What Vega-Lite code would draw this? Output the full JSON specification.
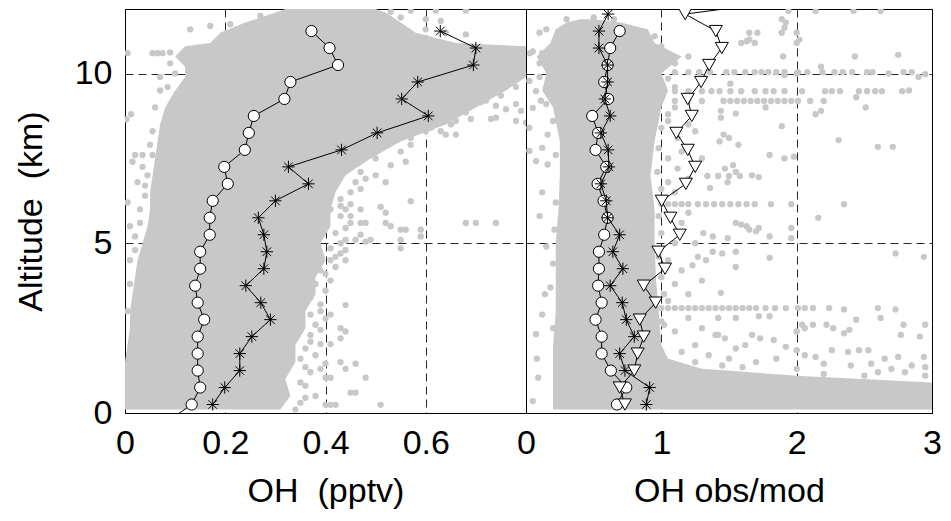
{
  "$schema": "https://vega.github.io/schema/vega-lite/v6.json",
  "background": "white",
  "padding": {"left": 13, "top": 8, "right": 6, "bottom": 5},
  "bounds": "flush",
  "spacing": 0,
  "config": {
    "font": "Liberation Sans",
    "view": {"stroke": "black", "strokeWidth": 1},
    "axis": {
      "labelFont": "Liberation Sans", "labelFontSize": 34, "labelColor": "black",
      "titleFont": "Liberation Sans", "titleFontSize": 34, "titleFontWeight": "normal", "titleColor": "black",
      "ticks": false, "domain": false, "grid": true, "gridColor": "black", "gridDash": [8, 5], "gridWidth": 1, "gridOpacity": 0.85,
      "labelFlush": false, "labelOverlap": false, "labelPadding": 13, "titlePadding": 14, "format": "~g"
    }
  },
  "datasets": {
    "leftCore": [
      {"alt": 0.1, "lo": 0, "hi": 0.31}, {"alt": 0.5, "lo": 0, "hi": 0.33}, {"alt": 1, "lo": 0, "hi": 0.32}, {"alt": 1.5, "lo": 0, "hi": 0.34},
      {"alt": 2, "lo": 0.005, "hi": 0.34}, {"alt": 2.5, "lo": 0.01, "hi": 0.36}, {"alt": 3, "lo": 0.01, "hi": 0.36}, {"alt": 3.5, "lo": 0.015, "hi": 0.38},
      {"alt": 4, "lo": 0.02, "hi": 0.38}, {"alt": 4.5, "lo": 0.025, "hi": 0.40}, {"alt": 5, "lo": 0.035, "hi": 0.39}, {"alt": 5.5, "lo": 0.045, "hi": 0.41},
      {"alt": 6, "lo": 0.05, "hi": 0.41}, {"alt": 6.5, "lo": 0.05, "hi": 0.42}, {"alt": 7, "lo": 0.055, "hi": 0.44}, {"alt": 7.5, "lo": 0.06, "hi": 0.49},
      {"alt": 8, "lo": 0.065, "hi": 0.55}, {"alt": 8.5, "lo": 0.07, "hi": 0.64}, {"alt": 9, "lo": 0.08, "hi": 0.70}, {"alt": 9.5, "lo": 0.10, "hi": 0.76},
      {"alt": 9.9, "lo": 0.12, "hi": 0.80}, {"alt": 10.2, "lo": 0.12, "hi": 0.80}, {"alt": 10.5, "lo": 0.10, "hi": 0.80}, {"alt": 10.8, "lo": 0.12, "hi": 0.80},
      {"alt": 10.9, "lo": 0.17, "hi": 0.66}, {"alt": 11.2, "lo": 0.19, "hi": 0.58}, {"alt": 11.5, "lo": 0.24, "hi": 0.55}, {"alt": 11.8, "lo": 0.30, "hi": 0.52},
      {"alt": 11.9, "lo": 0.32, "hi": 0.50}
    ],
    "rightCore": [
      {"alt": 0.1, "lo": 0.2, "hi": 3.0}, {"alt": 0.9, "lo": 0.2, "hi": 3.0}, {"alt": 1.1, "lo": 0.2, "hi": 2.0}, {"alt": 1.3, "lo": 0.2, "hi": 1.3},
      {"alt": 1.6, "lo": 0.2, "hi": 1.05}, {"alt": 2, "lo": 0.2, "hi": 1.0}, {"alt": 3, "lo": 0.22, "hi": 0.98}, {"alt": 4, "lo": 0.22, "hi": 0.96},
      {"alt": 5, "lo": 0.22, "hi": 0.95}, {"alt": 6, "lo": 0.24, "hi": 0.95}, {"alt": 7, "lo": 0.25, "hi": 0.92}, {"alt": 8, "lo": 0.25, "hi": 0.95},
      {"alt": 9, "lo": 0.2, "hi": 1.0}, {"alt": 9.5, "lo": 0.12, "hi": 1.05}, {"alt": 10, "lo": 0.15, "hi": 1.0}, {"alt": 10.5, "lo": 0.08, "hi": 1.15},
      {"alt": 10.9, "lo": 0.18, "hi": 0.95}, {"alt": 11.3, "lo": 0.22, "hi": 0.9}, {"alt": 11.5, "lo": 0.3, "hi": 0.7}, {"alt": 11.6, "lo": 0.4, "hi": 0.5}
    ],
    "leftDots": [
      {"alt": 11.85, "v": 0.33}, {"alt": 11.85, "v": 0.36}, {"alt": 11.85, "v": 0.40}, {"alt": 11.82, "v": 0.44}, {"alt": 11.85, "v": 0.48},
      {"alt": 11.82, "v": 0.53}, {"alt": 11.85, "v": 0.57}, {"alt": 11.85, "v": 0.62}, {"alt": 11.85, "v": 0.68}, {"alt": 11.7, "v": 0.27},
      {"alt": 11.65, "v": 0.55}, {"alt": 11.6, "v": 0.60}, {"alt": 11.55, "v": 0.63}, {"alt": 11.45, "v": 0.21}, {"alt": 11.4, "v": 0.17},
      {"alt": 11.3, "v": 0.13}, {"alt": 11.3, "v": 0.60}, {"alt": 11.2, "v": 0.64}, {"alt": 11.15, "v": 0.68},
      {"alt": 10.6, "v": 0.005}, {"alt": 10.6, "v": 0.055}, {"alt": 10.6, "v": 0.065}, {"alt": 10.6, "v": 0.075}, {"alt": 10.62, "v": 0.09},
      {"alt": 8.65, "v": 0.003}, {"alt": 8.8, "v": 0.012}, {"alt": 9.5, "v": 0.07}, {"alt": 9.9, "v": 0.07}, {"alt": 7.6, "v": 0.02},
      {"alt": 7.6, "v": 0.035}, {"alt": 7.6, "v": 0.055}, {"alt": 7.4, "v": 0.015}, {"alt": 7.25, "v": 0.035}, {"alt": 6.8, "v": 0.025},
      {"alt": 6.7, "v": 0.04}, {"alt": 6.2, "v": 0.005}, {"alt": 5.2, "v": 0.02}, {"alt": 6.0, "v": 0.03}, {"alt": 5.5, "v": 0.01}, {"alt": 4.5, "v": 0.01},
      {"alt": 3.0, "v": 0.005}, {"alt": 3.8, "v": 0.01}, {"alt": 4.8, "v": 0.02}, {"alt": 5.6, "v": 0.03}, {"alt": 6.4, "v": 0.04},
      {"alt": 7.0, "v": 0.045}, {"alt": 7.9, "v": 0.05}, {"alt": 8.3, "v": 0.055}, {"alt": 9.0, "v": 0.06}, {"alt": 9.6, "v": 0.085},
      {"alt": 10.0, "v": 0.1}, {"alt": 10.3, "v": 0.09},
      {"alt": 9.0, "v": 0.67}, {"alt": 9.1, "v": 0.69}, {"alt": 9.15, "v": 0.71}, {"alt": 9.05, "v": 0.74}, {"alt": 8.95, "v": 0.76},
      {"alt": 8.9, "v": 0.79}, {"alt": 9.1, "v": 0.78}, {"alt": 8.66, "v": 0.69}, {"alt": 8.66, "v": 0.73}, {"alt": 8.7, "v": 0.74},
      {"alt": 8.6, "v": 0.78}, {"alt": 8.55, "v": 0.80}, {"alt": 8.5, "v": 0.65}, {"alt": 8.3, "v": 0.63}, {"alt": 8.2, "v": 0.64},
      {"alt": 8.4, "v": 0.61}, {"alt": 8.2, "v": 0.66},
      {"alt": 7.9, "v": 0.57}, {"alt": 7.7, "v": 0.55}, {"alt": 7.4, "v": 0.56}, {"alt": 7.3, "v": 0.53}, {"alt": 7.5, "v": 0.50},
      {"alt": 7.0, "v": 0.50}, {"alt": 6.8, "v": 0.52}, {"alt": 6.9, "v": 0.48}, {"alt": 6.6, "v": 0.47}, {"alt": 6.24, "v": 0.57},
      {"alt": 6.07, "v": 0.51}, {"alt": 6.1, "v": 0.43}, {"alt": 6.15, "v": 0.45}, {"alt": 6.0, "v": 0.44}, {"alt": 6.0, "v": 0.47},
      {"alt": 6.0, "v": 0.41}, {"alt": 5.8, "v": 0.43}, {"alt": 5.8, "v": 0.45}, {"alt": 5.6, "v": 0.45}, {"alt": 5.6, "v": 0.47},
      {"alt": 5.6, "v": 0.48}, {"alt": 5.6, "v": 0.52}, {"alt": 5.9, "v": 0.52}, {"alt": 5.5, "v": 0.53}, {"alt": 5.4, "v": 0.55},
      {"alt": 5.4, "v": 0.56}, {"alt": 5.4, "v": 0.59}, {"alt": 5.25, "v": 0.47}, {"alt": 5.1, "v": 0.49}, {"alt": 5.1, "v": 0.46},
      {"alt": 5.05, "v": 0.48}, {"alt": 5.1, "v": 0.55}, {"alt": 5.1, "v": 0.44}, {"alt": 5.6, "v": 0.68}, {"alt": 5.6, "v": 0.70},
      {"alt": 5.6, "v": 0.74}, {"alt": 5.2, "v": 0.59}, {"alt": 4.85, "v": 0.55}, {"alt": 4.85, "v": 0.41}, {"alt": 4.7, "v": 0.43},
      {"alt": 4.8, "v": 0.44}, {"alt": 4.5, "v": 0.41}, {"alt": 4.5, "v": 0.44}, {"alt": 3.18, "v": 0.44}, {"alt": 3.4, "v": 0.37},
      {"alt": 3.2, "v": 0.39}, {"alt": 2.9, "v": 0.41}, {"alt": 2.78, "v": 0.40}, {"alt": 2.9, "v": 0.37}, {"alt": 2.5, "v": 0.43},
      {"alt": 2.4, "v": 0.44}, {"alt": 2.2, "v": 0.43}, {"alt": 2.03, "v": 0.41}, {"alt": 2.03, "v": 0.39}, {"alt": 1.5, "v": 0.43},
      {"alt": 1.45, "v": 0.46}, {"alt": 1.3, "v": 0.44}, {"alt": 1.3, "v": 0.39}, {"alt": 1.45, "v": 0.40}, {"alt": 1.04, "v": 0.40},
      {"alt": 1.04, "v": 0.41}, {"alt": 1.04, "v": 0.48}, {"alt": 0.6, "v": 0.45}, {"alt": 0.6, "v": 0.46}, {"alt": 0.24, "v": 0.40},
      {"alt": 0.24, "v": 0.41}, {"alt": 0.24, "v": 0.42}, {"alt": 0.24, "v": 0.51}, {"alt": 0.5, "v": 0.38}, {"alt": 1.9, "v": 0.36},
      {"alt": 2.3, "v": 0.37}, {"alt": 3.8, "v": 0.38}, {"alt": 4.2, "v": 0.39}, {"alt": 0.8, "v": 0.36}, {"alt": 1.6, "v": 0.35},
      {"alt": 0.1, "v": 0.34}, {"alt": 0.3, "v": 0.35}, {"alt": 0.45, "v": 0.36}, {"alt": 0.9, "v": 0.35}, {"alt": 1.2, "v": 0.37},
      {"alt": 1.35, "v": 0.36}, {"alt": 1.7, "v": 0.38}, {"alt": 2.1, "v": 0.37}, {"alt": 2.6, "v": 0.38}, {"alt": 2.45, "v": 0.39},
      {"alt": 3.0, "v": 0.39}, {"alt": 3.6, "v": 0.40}, {"alt": 3.9, "v": 0.41}, {"alt": 4.1, "v": 0.40}, {"alt": 4.3, "v": 0.42},
      {"alt": 4.6, "v": 0.42}, {"alt": 5.0, "v": 0.43}, {"alt": 5.3, "v": 0.42}, {"alt": 5.45, "v": 0.44}, {"alt": 6.3, "v": 0.43},
      {"alt": 6.5, "v": 0.45}, {"alt": 6.8, "v": 0.46}, {"alt": 7.1, "v": 0.47}, {"alt": 7.7, "v": 0.50}, {"alt": 7.9, "v": 0.52},
      {"alt": 8.1, "v": 0.57}, {"alt": 8.3, "v": 0.60}, {"alt": 8.6, "v": 0.66}, {"alt": 8.85, "v": 0.68}, {"alt": 9.2, "v": 0.72},
      {"alt": 9.35, "v": 0.75}, {"alt": 9.6, "v": 0.78}
    ],
    "rightDots": [
      {"alt": 11.84, "v": 1.94}, {"alt": 11.84, "v": 2.14}, {"alt": 11.84, "v": 2.42}, {"alt": 11.84, "v": 2.62}, {"alt": 11.6, "v": 1.89},
      {"alt": 11.5, "v": 1.92}, {"alt": 11.35, "v": 1.91}, {"alt": 11.2, "v": 1.89}, {"alt": 11.2, "v": 1.65}, {"alt": 11.2, "v": 1.71},
      {"alt": 11.0, "v": 1.65}, {"alt": 10.9, "v": 1.59}, {"alt": 10.9, "v": 1.69}, {"alt": 10.95, "v": 1.63}, {"alt": 11.2, "v": 2.0},
      {"alt": 11.0, "v": 2.02}, {"alt": 10.9, "v": 2.0}, {"alt": 10.5, "v": 1.9}, {"alt": 10.5, "v": 2.43}, {"alt": 10.55, "v": 2.75},
      {"alt": 11.6, "v": 0.3}, {"alt": 11.65, "v": 0.5}, {"alt": 11.6, "v": 0.65}, {"alt": 11.3, "v": 0.15}, {"alt": 11.2, "v": 0.1},
      {"alt": 10.65, "v": 0.05}, {"alt": 10.6, "v": 0.03}, {"alt": 10.6, "v": 0.12},
      {"alt": 10.04, "v": 1.1}, {"alt": 10.04, "v": 1.2}, {"alt": 10.04, "v": 1.28}, {"alt": 10.04, "v": 1.36}, {"alt": 10.04, "v": 1.48},
      {"alt": 10.04, "v": 1.54}, {"alt": 10.04, "v": 1.62}, {"alt": 10.04, "v": 1.69}, {"alt": 10.04, "v": 1.74}, {"alt": 10.04, "v": 1.79},
      {"alt": 10.04, "v": 1.85}, {"alt": 10.04, "v": 1.91}, {"alt": 10.04, "v": 2.01}, {"alt": 10.04, "v": 2.08}, {"alt": 10.04, "v": 2.19},
      {"alt": 10.04, "v": 2.28}, {"alt": 10.04, "v": 2.34}, {"alt": 10.04, "v": 2.41}, {"alt": 10.04, "v": 2.52}, {"alt": 10.04, "v": 2.56},
      {"alt": 10.04, "v": 2.79}, {"alt": 10.04, "v": 2.85}, {"alt": 9.98, "v": 2.95}, {"alt": 10.2, "v": 2.18}, {"alt": 9.95, "v": 1.91},
      {"alt": 10.0, "v": 2.0}, {"alt": 10.0, "v": 2.68}, {"alt": 9.9, "v": 2.9},
      {"alt": 9.48, "v": 1.1}, {"alt": 9.48, "v": 1.2}, {"alt": 9.48, "v": 1.3}, {"alt": 9.48, "v": 1.37}, {"alt": 9.48, "v": 1.43},
      {"alt": 9.48, "v": 1.51}, {"alt": 9.48, "v": 1.59}, {"alt": 9.48, "v": 1.69}, {"alt": 9.48, "v": 1.77}, {"alt": 9.48, "v": 1.83},
      {"alt": 9.48, "v": 1.91}, {"alt": 9.48, "v": 2.04}, {"alt": 9.48, "v": 2.21}, {"alt": 9.48, "v": 2.26}, {"alt": 9.48, "v": 2.32},
      {"alt": 9.48, "v": 2.46}, {"alt": 9.48, "v": 2.52}, {"alt": 9.48, "v": 2.58}, {"alt": 9.48, "v": 2.63}, {"alt": 9.48, "v": 2.78},
      {"alt": 9.5, "v": 2.83},
      {"alt": 9.19, "v": 1.1}, {"alt": 9.19, "v": 1.2}, {"alt": 9.19, "v": 1.3}, {"alt": 9.19, "v": 1.46}, {"alt": 9.19, "v": 1.51},
      {"alt": 9.19, "v": 1.56}, {"alt": 9.19, "v": 1.61}, {"alt": 9.19, "v": 1.66}, {"alt": 9.19, "v": 1.71}, {"alt": 9.19, "v": 1.76},
      {"alt": 9.19, "v": 1.81}, {"alt": 9.19, "v": 1.86}, {"alt": 9.19, "v": 1.91}, {"alt": 9.19, "v": 1.96}, {"alt": 9.19, "v": 2.01},
      {"alt": 9.19, "v": 2.1}, {"alt": 9.19, "v": 2.2}, {"alt": 9.3, "v": 2.44},
      {"alt": 9.0, "v": 1.77}, {"alt": 9.0, "v": 2.51}, {"alt": 8.9, "v": 2.18}, {"alt": 8.8, "v": 2.14}, {"alt": 8.45, "v": 1.89},
      {"alt": 8.04, "v": 2.31}, {"alt": 7.84, "v": 2.6}, {"alt": 7.84, "v": 2.71}, {"alt": 7.6, "v": 1.8}, {"alt": 7.5, "v": 1.91},
      {"alt": 7.55, "v": 1.98}, {"alt": 7.2, "v": 1.47}, {"alt": 7.3, "v": 1.53}, {"alt": 7.1, "v": 1.55}, {"alt": 7.0, "v": 1.67},
      {"alt": 6.95, "v": 1.72}, {"alt": 6.98, "v": 1.34}, {"alt": 6.98, "v": 1.42}, {"alt": 6.98, "v": 1.5}, {"alt": 6.98, "v": 1.58},
      {"alt": 6.8, "v": 1.49}, {"alt": 6.63, "v": 1.36}, {"alt": 8.7, "v": 1.44}, {"alt": 8.9, "v": 1.44}, {"alt": 8.82, "v": 1.55},
      {"alt": 9.7, "v": 1.51}, {"alt": 8.0, "v": 1.43}, {"alt": 8.1, "v": 1.5}, {"alt": 7.9, "v": 1.57}, {"alt": 8.2, "v": 1.46},
      {"alt": 8.5, "v": 1.2}, {"alt": 8.3, "v": 1.25}, {"alt": 7.7, "v": 1.15}, {"alt": 7.5, "v": 1.3}, {"alt": 7.2, "v": 1.12},
      {"alt": 6.9, "v": 1.2}, {"alt": 8.8, "v": 1.05}, {"alt": 9.0, "v": 1.1},
      {"alt": 6.15, "v": 1.0}, {"alt": 6.15, "v": 1.05}, {"alt": 6.15, "v": 1.1}, {"alt": 6.15, "v": 1.15}, {"alt": 6.15, "v": 1.2},
      {"alt": 6.15, "v": 1.27}, {"alt": 6.15, "v": 1.33}, {"alt": 6.15, "v": 1.39}, {"alt": 6.15, "v": 1.45}, {"alt": 6.15, "v": 1.51},
      {"alt": 6.15, "v": 1.57}, {"alt": 6.15, "v": 1.63}, {"alt": 6.15, "v": 1.69}, {"alt": 6.15, "v": 1.81}, {"alt": 6.15, "v": 1.96},
      {"alt": 6.15, "v": 2.35},
      {"alt": 5.75, "v": 2.16}, {"alt": 5.6, "v": 1.55}, {"alt": 5.55, "v": 1.59}, {"alt": 5.5, "v": 1.63}, {"alt": 5.45, "v": 1.72},
      {"alt": 5.45, "v": 1.96}, {"alt": 5.4, "v": 1.65}, {"alt": 5.35, "v": 1.7}, {"alt": 5.3, "v": 1.31}, {"alt": 5.2, "v": 1.38},
      {"alt": 5.15, "v": 1.49}, {"alt": 5.2, "v": 1.8}, {"alt": 5.15, "v": 1.96}, {"alt": 4.6, "v": 1.27}, {"alt": 4.75, "v": 1.38},
      {"alt": 4.7, "v": 1.45}, {"alt": 4.75, "v": 1.55}, {"alt": 4.5, "v": 1.33}, {"alt": 4.3, "v": 1.55}, {"alt": 4.35, "v": 1.23},
      {"alt": 4.57, "v": 1.8}, {"alt": 4.7, "v": 2.73}, {"alt": 4.6, "v": 2.94}, {"alt": 3.54, "v": 1.44},
      {"alt": 6.8, "v": 1.05}, {"alt": 6.5, "v": 1.1}, {"alt": 5.9, "v": 1.2}, {"alt": 5.6, "v": 1.15}, {"alt": 5.0, "v": 1.1},
      {"alt": 5.0, "v": 1.25}, {"alt": 4.5, "v": 1.05}, {"alt": 4.2, "v": 1.15}, {"alt": 3.8, "v": 1.1}, {"alt": 3.5, "v": 1.2},
      {"alt": 3.3, "v": 1.05}, {"alt": 3.9, "v": 1.3}, {"alt": 2.6, "v": 1.02}, {"alt": 2.4, "v": 1.1}, {"alt": 2.8, "v": 1.2},
      {"alt": 2.5, "v": 1.3}, {"alt": 2.3, "v": 1.4}, {"alt": 7.5, "v": 1.05}, {"alt": 8.1, "v": 1.12},
      {"alt": 3.09, "v": 1.0}, {"alt": 3.09, "v": 1.05}, {"alt": 3.09, "v": 1.1}, {"alt": 3.09, "v": 1.15}, {"alt": 3.09, "v": 1.2},
      {"alt": 3.09, "v": 1.25}, {"alt": 3.09, "v": 1.3}, {"alt": 3.09, "v": 1.35}, {"alt": 3.09, "v": 1.4}, {"alt": 3.09, "v": 1.45},
      {"alt": 3.09, "v": 1.5}, {"alt": 3.09, "v": 1.55}, {"alt": 3.09, "v": 1.6}, {"alt": 3.09, "v": 1.65}, {"alt": 3.09, "v": 1.7},
      {"alt": 3.09, "v": 1.77}, {"alt": 3.09, "v": 1.84}, {"alt": 3.09, "v": 1.92}, {"alt": 3.09, "v": 2.01}, {"alt": 3.09, "v": 2.06},
      {"alt": 3.09, "v": 2.12}, {"alt": 3.09, "v": 2.24}, {"alt": 3.05, "v": 2.35}, {"alt": 3.09, "v": 2.6}, {"alt": 3.05, "v": 2.73},
      {"alt": 2.8, "v": 1.42}, {"alt": 2.8, "v": 1.55}, {"alt": 2.85, "v": 1.72}, {"alt": 2.85, "v": 1.8}, {"alt": 2.6, "v": 2.04},
      {"alt": 2.6, "v": 2.12}, {"alt": 2.6, "v": 2.22}, {"alt": 2.5, "v": 2.06}, {"alt": 2.75, "v": 2.44}, {"alt": 2.8, "v": 2.62},
      {"alt": 2.6, "v": 2.79}, {"alt": 2.6, "v": 2.95}, {"alt": 2.4, "v": 2.0}, {"alt": 2.35, "v": 2.35}, {"alt": 2.45, "v": 2.39},
      {"alt": 2.5, "v": 2.27}, {"alt": 2.3, "v": 2.77}, {"alt": 2.25, "v": 2.91},
      {"alt": 2.3, "v": 1.42}, {"alt": 2.2, "v": 1.47}, {"alt": 2.3, "v": 1.67}, {"alt": 2.2, "v": 1.73}, {"alt": 2.15, "v": 1.83},
      {"alt": 1.95, "v": 1.92}, {"alt": 1.85, "v": 2.0}, {"alt": 1.7, "v": 2.06}, {"alt": 1.65, "v": 2.14}, {"alt": 1.85, "v": 2.26},
      {"alt": 1.8, "v": 2.38}, {"alt": 1.85, "v": 2.46}, {"alt": 1.85, "v": 2.53}, {"alt": 1.6, "v": 2.65}, {"alt": 1.65, "v": 2.75},
      {"alt": 1.65, "v": 2.94}, {"alt": 1.9, "v": 1.55}, {"alt": 2.0, "v": 1.62}, {"alt": 1.7, "v": 1.35}, {"alt": 1.6, "v": 1.5},
      {"alt": 1.5, "v": 1.7}, {"alt": 1.6, "v": 1.85}, {"alt": 1.45, "v": 2.2}, {"alt": 1.4, "v": 2.4}, {"alt": 1.45, "v": 2.55},
      {"alt": 1.4, "v": 2.85}, {"alt": 1.35, "v": 1.6}, {"alt": 1.4, "v": 1.45}, {"alt": 1.3, "v": 2.0}, {"alt": 1.3, "v": 2.7},
      {"alt": 1.35, "v": 2.95}, {"alt": 1.5, "v": 1.25}, {"alt": 1.8, "v": 1.15}, {"alt": 2.0, "v": 1.25},
      {"alt": 1.15, "v": 2.2}, {"alt": 1.1, "v": 2.5}, {"alt": 1.2, "v": 2.8}, {"alt": 1.1, "v": 2.95}, {"alt": 1.2, "v": 2.6},
      {"alt": 9.78, "v": 0.025}, {"alt": 9.48, "v": 0.074}, {"alt": 8.99, "v": 0.05}, {"alt": 8.4, "v": 0.025}, {"alt": 7.81, "v": 0.12},
      {"alt": 7.42, "v": 0.074}, {"alt": 7.72, "v": 0.025}, {"alt": 7.32, "v": 0.16}, {"alt": 2.32, "v": 0.074}, {"alt": 1.04, "v": 0.09},
      {"alt": 0.35, "v": 0.05}, {"alt": 6.5, "v": 0.12}, {"alt": 5.8, "v": 0.1}, {"alt": 4.9, "v": 0.15}, {"alt": 3.5, "v": 0.14},
      {"alt": 2.9, "v": 0.12}, {"alt": 1.6, "v": 0.08}, {"alt": 8.2, "v": 0.16}, {"alt": 9.2, "v": 0.11},
      {"alt": 2.7, "v": 1.0}, {"alt": 3.5, "v": 1.02}, {"alt": 4.0, "v": 1.0}, {"alt": 4.6, "v": 0.98}, {"alt": 5.3, "v": 1.0},
      {"alt": 5.8, "v": 0.98}, {"alt": 6.6, "v": 1.0}, {"alt": 7.1, "v": 0.97}, {"alt": 7.8, "v": 0.98}, {"alt": 8.4, "v": 1.0},
      {"alt": 8.6, "v": 1.05}, {"alt": 9.6, "v": 1.1}, {"alt": 9.85, "v": 1.05}, {"alt": 10.3, "v": 1.1}, {"alt": 10.5, "v": 1.2},
      {"alt": 10.8, "v": 1.0}, {"alt": 11.1, "v": 0.95}, {"alt": 2.5, "v": 0.2}, {"alt": 3.7, "v": 0.18}, {"alt": 4.4, "v": 0.2},
      {"alt": 5.4, "v": 0.21}, {"alt": 6.2, "v": 0.22}, {"alt": 7.6, "v": 0.22}, {"alt": 8.6, "v": 0.2}, {"alt": 9.1, "v": 0.15},
      {"alt": 9.9, "v": 0.1}, {"alt": 10.3, "v": 0.1}
    ],
    "leftProf": [
      {"s": "c", "alt": -0.25, "v": 0.084}, {"s": "c", "alt": 0.25, "v": 0.133}, {"s": "c", "alt": 0.75, "v": 0.150}, {"s": "c", "alt": 1.25, "v": 0.145},
      {"s": "c", "alt": 1.75, "v": 0.145}, {"s": "c", "alt": 2.25, "v": 0.145}, {"s": "c", "alt": 2.75, "v": 0.158}, {"s": "c", "alt": 3.25, "v": 0.145},
      {"s": "c", "alt": 3.75, "v": 0.140}, {"s": "c", "alt": 4.25, "v": 0.150}, {"s": "c", "alt": 4.75, "v": 0.150}, {"s": "c", "alt": 5.25, "v": 0.169},
      {"s": "c", "alt": 5.75, "v": 0.169}, {"s": "c", "alt": 6.25, "v": 0.175}, {"s": "c", "alt": 6.75, "v": 0.205}, {"s": "c", "alt": 7.25, "v": 0.198},
      {"s": "c", "alt": 7.75, "v": 0.239}, {"s": "c", "alt": 8.25, "v": 0.247}, {"s": "c", "alt": 8.75, "v": 0.257}, {"s": "c", "alt": 9.25, "v": 0.318},
      {"s": "c", "alt": 9.75, "v": 0.330}, {"s": "c", "alt": 10.25, "v": 0.425}, {"s": "c", "alt": 10.75, "v": 0.408}, {"s": "c", "alt": 11.25, "v": 0.372},
      {"s": "a", "alt": 0.25, "v": 0.175}, {"s": "a", "alt": 0.75, "v": 0.199}, {"s": "a", "alt": 1.25, "v": 0.229}, {"s": "a", "alt": 1.75, "v": 0.229},
      {"s": "a", "alt": 2.25, "v": 0.253}, {"s": "a", "alt": 2.75, "v": 0.290}, {"s": "a", "alt": 3.25, "v": 0.271}, {"s": "a", "alt": 3.75, "v": 0.241},
      {"s": "a", "alt": 4.25, "v": 0.277}, {"s": "a", "alt": 4.75, "v": 0.283}, {"s": "a", "alt": 5.25, "v": 0.277}, {"s": "a", "alt": 5.75, "v": 0.266},
      {"s": "a", "alt": 6.25, "v": 0.300}, {"s": "a", "alt": 6.75, "v": 0.366}, {"s": "a", "alt": 7.25, "v": 0.326}, {"s": "a", "alt": 7.75, "v": 0.432},
      {"s": "a", "alt": 8.25, "v": 0.503}, {"s": "a", "alt": 8.75, "v": 0.605}, {"s": "a", "alt": 9.25, "v": 0.552}, {"s": "a", "alt": 9.75, "v": 0.584},
      {"s": "a", "alt": 10.25, "v": 0.695}, {"s": "a", "alt": 10.75, "v": 0.700}, {"s": "a", "alt": 11.25, "v": 0.629}
    ],
    "rightProf": [
      {"s": "c", "alt": 0.25, "v": 0.672}, {"s": "c", "alt": 0.75, "v": 0.741}, {"s": "c", "alt": 1.25, "v": 0.627}, {"s": "c", "alt": 1.75, "v": 0.559},
      {"s": "c", "alt": 2.25, "v": 0.559}, {"s": "c", "alt": 2.75, "v": 0.514}, {"s": "c", "alt": 3.25, "v": 0.559}, {"s": "c", "alt": 3.75, "v": 0.533},
      {"s": "c", "alt": 4.25, "v": 0.539}, {"s": "c", "alt": 4.75, "v": 0.539}, {"s": "c", "alt": 5.25, "v": 0.578}, {"s": "c", "alt": 5.75, "v": 0.603},
      {"s": "c", "alt": 6.25, "v": 0.573}, {"s": "c", "alt": 6.75, "v": 0.529}, {"s": "c", "alt": 7.25, "v": 0.593}, {"s": "c", "alt": 7.75, "v": 0.514},
      {"s": "c", "alt": 8.25, "v": 0.533}, {"s": "c", "alt": 8.75, "v": 0.489}, {"s": "c", "alt": 9.25, "v": 0.607}, {"s": "c", "alt": 9.75, "v": 0.578},
      {"s": "c", "alt": 10.25, "v": 0.603}, {"s": "c", "alt": 10.75, "v": 0.622}, {"s": "c", "alt": 11.25, "v": 0.692},
      {"s": "a", "alt": 0.25, "v": 0.889}, {"s": "a", "alt": 0.75, "v": 0.914}, {"s": "a", "alt": 1.25, "v": 0.731}, {"s": "a", "alt": 1.75, "v": 0.692},
      {"s": "a", "alt": 2.25, "v": 0.800}, {"s": "a", "alt": 2.75, "v": 0.741}, {"s": "a", "alt": 3.25, "v": 0.711}, {"s": "a", "alt": 3.75, "v": 0.622},
      {"s": "a", "alt": 4.25, "v": 0.716}, {"s": "a", "alt": 4.75, "v": 0.642}, {"s": "a", "alt": 5.25, "v": 0.692}, {"s": "a", "alt": 5.75, "v": 0.603},
      {"s": "a", "alt": 6.25, "v": 0.593}, {"s": "a", "alt": 6.75, "v": 0.553}, {"s": "a", "alt": 7.25, "v": 0.613}, {"s": "a", "alt": 7.75, "v": 0.607},
      {"s": "a", "alt": 8.25, "v": 0.553}, {"s": "a", "alt": 8.75, "v": 0.622}, {"s": "a", "alt": 9.25, "v": 0.583}, {"s": "a", "alt": 9.75, "v": 0.603},
      {"s": "a", "alt": 10.25, "v": 0.603}, {"s": "a", "alt": 10.75, "v": 0.539}, {"s": "a", "alt": 11.25, "v": 0.539}, {"s": "a", "alt": 11.75, "v": 0.607},
      {"s": "t", "alt": 0.25, "v": 0.731}, {"s": "t", "alt": 0.75, "v": 0.692}, {"s": "t", "alt": 1.25, "v": 0.800}, {"s": "t", "alt": 1.75, "v": 0.825},
      {"s": "t", "alt": 2.25, "v": 0.870}, {"s": "t", "alt": 2.75, "v": 0.840}, {"s": "t", "alt": 3.25, "v": 0.958}, {"s": "t", "alt": 3.75, "v": 0.870},
      {"s": "t", "alt": 4.25, "v": 1.027}, {"s": "t", "alt": 4.75, "v": 0.978}, {"s": "t", "alt": 5.25, "v": 1.136}, {"s": "t", "alt": 5.75, "v": 1.067},
      {"s": "t", "alt": 6.25, "v": 1.003}, {"s": "t", "alt": 6.75, "v": 1.181}, {"s": "t", "alt": 7.25, "v": 1.250}, {"s": "t", "alt": 7.75, "v": 1.195},
      {"s": "t", "alt": 8.25, "v": 1.111}, {"s": "t", "alt": 8.75, "v": 1.225}, {"s": "t", "alt": 9.25, "v": 1.195}, {"s": "t", "alt": 9.75, "v": 1.294},
      {"s": "t", "alt": 10.25, "v": 1.353}, {"s": "t", "alt": 10.75, "v": 1.447}, {"s": "t", "alt": 11.25, "v": 1.403}, {"s": "t", "alt": 11.75, "v": 1.176},
      {"s": "t", "alt": 12.25, "v": 2.13}
    ]
  },
  "hconcat": [
    {
      "width": 401,
      "height": 404,
      "layer": [
        {
          "data": {"name": "leftCore"},
          "mark": {"type": "area", "orient": "horizontal", "color": "#c8c8c8", "opacity": 1},
          "encoding": {
            "y": {"field": "alt", "type": "quantitative", "scale": {"domain": [0, 11.9], "nice": false},
                  "axis": {"values": [0, 5, 10], "title": "Altitude\u00a0 (km)", "titlePadding": 26}},
            "x": {"field": "lo", "type": "quantitative", "scale": {"domain": [0, 0.8], "nice": false},
                  "axis": {"values": [0, 0.2, 0.4, 0.6], "title": "OH\u00a0 (pptv)"}},
            "x2": {"field": "hi"}
          }
        },
        {
          "data": {"name": "leftDots"},
          "mark": {"type": "circle", "size": 40, "color": "#c8c8c8", "opacity": 1, "clip": true},
          "encoding": {
            "y": {"field": "alt", "type": "quantitative", "title": "Altitude\u00a0 (km)"},
            "x": {"field": "v", "type": "quantitative", "title": "OH\u00a0 (pptv)"}
          }
        },
        {
          "data": {"name": "leftProf"},
          "transform": [{"filter": "datum.s == 'c'"}],
          "layer": [
            {"mark": {"type": "line", "color": "black", "strokeWidth": 1, "clip": true},
             "encoding": {"y": {"field": "alt", "type": "quantitative", "title": "Altitude\u00a0 (km)"}, "x": {"field": "v", "type": "quantitative", "title": "OH\u00a0 (pptv)"}, "order": {"field": "alt"}}},
            {"mark": {"type": "point", "shape": "circle", "size": 125, "filled": true, "fill": "white", "stroke": "black", "strokeWidth": 1, "opacity": 1, "clip": true},
             "encoding": {"y": {"field": "alt", "type": "quantitative", "title": "Altitude\u00a0 (km)"}, "x": {"field": "v", "type": "quantitative", "title": "OH\u00a0 (pptv)"}}}
          ]
        },
        {
          "data": {"name": "leftProf"},
          "transform": [{"filter": "datum.s == 'a'"}],
          "layer": [
            {"mark": {"type": "line", "color": "black", "strokeWidth": 1, "clip": true},
             "encoding": {"y": {"field": "alt", "type": "quantitative", "title": "Altitude\u00a0 (km)"}, "x": {"field": "v", "type": "quantitative", "title": "OH\u00a0 (pptv)"}, "order": {"field": "alt"}}},
            {"mark": {"type": "point", "shape": "M-1,0L1,0M0,-1L0,1M-0.7,-0.7L0.7,0.7M-0.7,0.7L0.7,-0.7", "size": 150, "filled": false, "stroke": "black", "strokeWidth": 1, "opacity": 1, "clip": true},
             "encoding": {"y": {"field": "alt", "type": "quantitative", "title": "Altitude\u00a0 (km)"}, "x": {"field": "v", "type": "quantitative", "title": "OH\u00a0 (pptv)"}}}
          ]
        }
      ]
    },
    {
      "width": 406,
      "height": 404,
      "layer": [
        {
          "data": {"name": "rightCore"},
          "mark": {"type": "area", "orient": "horizontal", "color": "#c8c8c8", "opacity": 1},
          "encoding": {
            "y": {"field": "alt", "type": "quantitative", "scale": {"domain": [0, 11.9], "nice": false},
                  "axis": {"values": [0, 5, 10], "labels": false, "title": null}},
            "x": {"field": "lo", "type": "quantitative", "scale": {"domain": [0, 3], "nice": false},
                  "axis": {"values": [0, 1, 2, 3], "title": "OH obs/mod"}},
            "x2": {"field": "hi"}
          }
        },
        {
          "data": {"name": "rightDots"},
          "mark": {"type": "circle", "size": 40, "color": "#c8c8c8", "opacity": 1, "clip": true},
          "encoding": {
            "y": {"field": "alt", "type": "quantitative", "title": null},
            "x": {"field": "v", "type": "quantitative", "title": "OH obs/mod"}
          }
        },
        {
          "data": {"name": "rightProf"},
          "transform": [{"filter": "datum.s == 'c'"}],
          "layer": [
            {"mark": {"type": "line", "color": "black", "strokeWidth": 1, "clip": true},
             "encoding": {"y": {"field": "alt", "type": "quantitative", "title": null}, "x": {"field": "v", "type": "quantitative", "title": "OH obs/mod"}, "order": {"field": "alt"}}},
            {"mark": {"type": "point", "shape": "circle", "size": 125, "filled": true, "fill": "white", "stroke": "black", "strokeWidth": 1, "opacity": 1, "clip": true},
             "encoding": {"y": {"field": "alt", "type": "quantitative", "title": null}, "x": {"field": "v", "type": "quantitative", "title": "OH obs/mod"}}}
          ]
        },
        {
          "data": {"name": "rightProf"},
          "transform": [{"filter": "datum.s == 't'"}],
          "layer": [
            {"mark": {"type": "line", "color": "black", "strokeWidth": 1, "clip": true},
             "encoding": {"y": {"field": "alt", "type": "quantitative", "title": null}, "x": {"field": "v", "type": "quantitative", "title": "OH obs/mod"}, "order": {"field": "alt"}}},
            {"mark": {"type": "point", "shape": "triangle-down", "size": 170, "filled": true, "fill": "white", "stroke": "black", "strokeWidth": 1, "opacity": 1, "clip": true},
             "encoding": {"y": {"field": "alt", "type": "quantitative", "title": null}, "x": {"field": "v", "type": "quantitative", "title": "OH obs/mod"}}}
          ]
        },
        {
          "data": {"name": "rightProf"},
          "transform": [{"filter": "datum.s == 'a'"}],
          "layer": [
            {"mark": {"type": "line", "color": "black", "strokeWidth": 1, "clip": true},
             "encoding": {"y": {"field": "alt", "type": "quantitative", "title": null}, "x": {"field": "v", "type": "quantitative", "title": "OH obs/mod"}, "order": {"field": "alt"}}},
            {"mark": {"type": "point", "shape": "M-1,0L1,0M0,-1L0,1M-0.7,-0.7L0.7,0.7M-0.7,0.7L0.7,-0.7", "size": 150, "filled": false, "stroke": "black", "strokeWidth": 1, "opacity": 1, "clip": true},
             "encoding": {"y": {"field": "alt", "type": "quantitative", "title": null}, "x": {"field": "v", "type": "quantitative", "title": "OH obs/mod"}}}
          ]
        }
      ]
    }
  ]
}
